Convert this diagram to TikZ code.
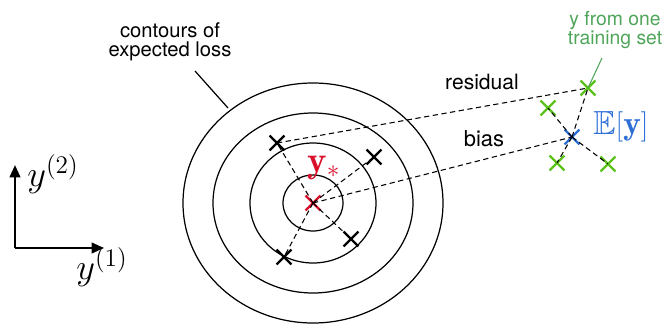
\documentclass[tikz,border=0pt]{standalone}
\usepackage{fontspec}
\setsansfont{TeX Gyre Heros}
\usepackage{amssymb}
\usepackage{xcolor}
\usetikzlibrary{positioning, arrows.meta, shapes.misc}
\definecolor{starred}{HTML}{D8102A}
\definecolor{setgreen}{HTML}{5CC21A}
\definecolor{notegreen}{HTML}{4FA55A}
\definecolor{meanblue}{HTML}{2E6FD6}

\begin{document}
\begin{tikzpicture}[x=0.02cm, y=-0.02cm, font=\sffamily\fontsize{11}{11}\selectfont,
    xcross/.style={cross out, draw, line width=1.3pt, minimum size=0.25cm, inner sep=0pt},
    gcross/.style={xcross, draw=setgreen},
    guide/.style={line width=0.6pt, dash pattern=on 3pt off 2pt},
    bigmath/.style={font=\fontsize{20}{21}\selectfont}]
  \useasboundingbox (0,0) rectangle (667,325);

  % contours
  \draw[line width=0.7pt] (313,203) ellipse [x radius=30, y radius=28];
  \draw[line width=0.7pt] (313,203) ellipse [x radius=63, y radius=60];
  \draw[line width=0.7pt] (313,203) ellipse [x radius=100, y radius=90];
  \draw[line width=0.7pt] (313,203) ellipse [x radius=130, y radius=120];
  \node[align=center, font=\sffamily\fontsize{11.5}{11}\selectfont] (contours) at (170,42) {contours of\\expected loss};
  \coordinate (leadtop) at (195,71);
  \coordinate (leadend) at (228,108);
  \draw[line width=0.7pt] (leadtop) -- (leadend);

  % samples round the true value
  \node[xcross, draw=starred] (truth) at (313,203) {};
  \node[xcross] (ul) at (277,143) {};
  \node[xcross] (ur) at (374,157) {};
  \node[xcross] (lr) at (351,239) {};
  \node[xcross] (ll) at (284,257) {};
  \foreach \s in {ul, ur, lr, ll}
    \draw[guide] (truth.center) -- (\s.center);
  \node[text=starred, font=\fontsize{21}{22}\selectfont] (ystar) at (324,168) {$\mathbf{y}_*$};

  % one training set and the mean
  \node[xcross, draw=meanblue] (mean) at (572,137) {};
  \node[gcross] (gt) at (588,88) {};
  \node[gcross] (gl) at (548,108) {};
  \node[gcross] (gbl) at (557,163) {};
  \node[gcross] (gbr) at (608,164) {};
  \foreach \s in {gt, gl, gbl, gbr}
    \draw[guide] (mean.center) -- (\s.center);
  \node[text=meanblue, font=\fontsize{19}{20}\selectfont] (emean) at (621,127) {$\mathbb{E}[\mathbf{y}]$};
  \node[text=notegreen, align=center] (onetrain) at (615,30) {y from one\\training set};
  \coordinate (notetip) at (602,58);
  \draw[notegreen, line width=0.6pt] (notetip) -- (gt.center);

  % residual and bias
  \draw[guide] (ul.center) -- (gt.center);
  \draw[guide] (truth.center) -- (mean.center);
  \node[font=\sffamily\fontsize{12}{12}\selectfont] (residual) at (482,82) {residual};
  \node[font=\sffamily\fontsize{12.5}{12}\selectfont] (bias) at (484,139) {bias};

  % axes
  \coordinate (origin) at (15,248);
  \coordinate (uptip) at (15,165);
  \coordinate (righttip) at (104,248);
  \draw[line width=1.3pt, -{Triangle[length=7pt, width=6pt]}] (origin) -- (uptip);
  \draw[line width=1.3pt, -{Triangle[length=7pt, width=6pt]}] (origin) -- (righttip);
  \node[bigmath] (ytwo) at (53,174) {$y^{(2)}$};
  \node[bigmath] (yone) at (102,267) {$y^{(1)}$};
\end{tikzpicture}
\end{document}
